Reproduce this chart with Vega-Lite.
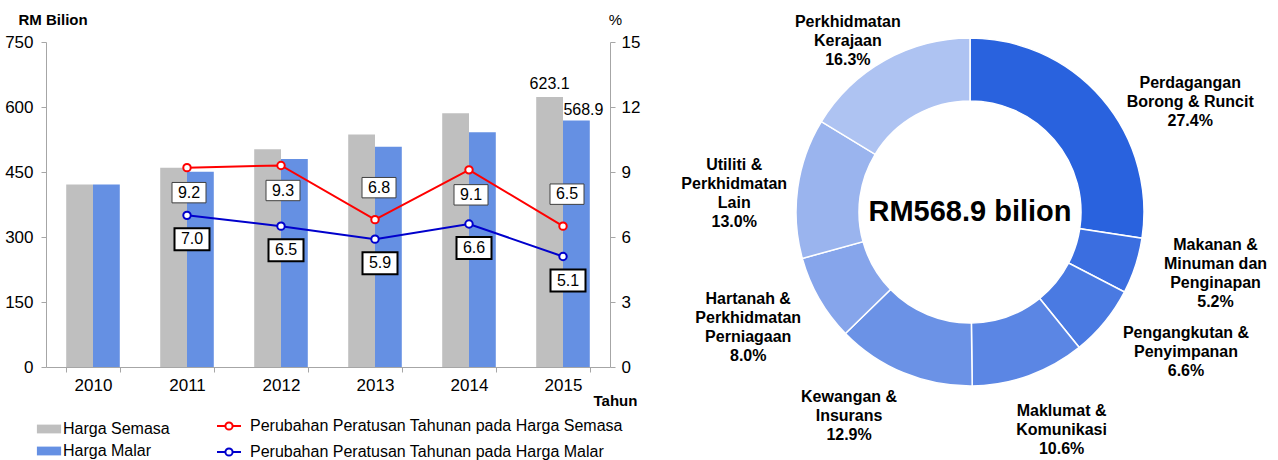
{
  "$schema": "https://vega.github.io/schema/vega-lite/v6.json",
  "padding": {"left": 4, "top": 12, "right": 0, "bottom": 0},
  "background": "white",
  "config": {
    "view": {"stroke": null},
    "font": "Liberation Sans",
    "axis": {"labelColor": "#000", "titleColor": "#000", "grid": false, "domainColor": "#A6A6A6", "tickColor": "#A6A6A6", "labelFont": "Liberation Sans", "titleFont": "Liberation Sans"},
    "legend": {"labelFontSize": 16, "labelColor": "#000", "padding": 0, "labelFont": "Liberation Sans", "labelLimit": 600},
    "text": {"font": "Liberation Sans", "color": "#000"}
  },
  "datasets": {
    "bars": [
      {"year": 2010, "series": "Harga Semasa", "value": 421.0},
      {"year": 2011, "series": "Harga Semasa", "value": 459.7},
      {"year": 2012, "series": "Harga Semasa", "value": 502.4},
      {"year": 2013, "series": "Harga Semasa", "value": 536.6},
      {"year": 2014, "series": "Harga Semasa", "value": 585.4},
      {"year": 2015, "series": "Harga Semasa", "value": 623.1},
      {"year": 2010, "series": "Harga Malar", "value": 421.0},
      {"year": 2011, "series": "Harga Malar", "value": 450.5},
      {"year": 2012, "series": "Harga Malar", "value": 479.8},
      {"year": 2013, "series": "Harga Malar", "value": 508.1},
      {"year": 2014, "series": "Harga Malar", "value": 541.7},
      {"year": 2015, "series": "Harga Malar", "value": 568.9}
    ],
    "pct": [
      {"year": 2011, "series": "Perubahan Peratusan Tahunan pada Harga Semasa", "pct": 9.2},
      {"year": 2012, "series": "Perubahan Peratusan Tahunan pada Harga Semasa", "pct": 9.3},
      {"year": 2013, "series": "Perubahan Peratusan Tahunan pada Harga Semasa", "pct": 6.8},
      {"year": 2014, "series": "Perubahan Peratusan Tahunan pada Harga Semasa", "pct": 9.1},
      {"year": 2015, "series": "Perubahan Peratusan Tahunan pada Harga Semasa", "pct": 6.5},
      {"year": 2011, "series": "Perubahan Peratusan Tahunan pada Harga Malar", "pct": 7.0},
      {"year": 2012, "series": "Perubahan Peratusan Tahunan pada Harga Malar", "pct": 6.5},
      {"year": 2013, "series": "Perubahan Peratusan Tahunan pada Harga Malar", "pct": 5.9},
      {"year": 2014, "series": "Perubahan Peratusan Tahunan pada Harga Malar", "pct": 6.6},
      {"year": 2015, "series": "Perubahan Peratusan Tahunan pada Harga Malar", "pct": 5.1}
    ],
    "sectors": [
      {"idx": 1, "sector": "Perdagangan Borong & Runcit", "share": 27.4, "label": "Perdagangan|Borong & Runcit|27.4%"},
      {"idx": 2, "sector": "Makanan & Minuman dan Penginapan", "share": 5.2, "label": "Makanan &|Minuman dan|Penginapan|5.2%"},
      {"idx": 3, "sector": "Pengangkutan & Penyimpanan", "share": 6.6, "label": "Pengangkutan &|Penyimpanan|6.6%"},
      {"idx": 4, "sector": "Maklumat & Komunikasi", "share": 10.6, "label": "Maklumat &|Komunikasi|10.6%"},
      {"idx": 5, "sector": "Kewangan & Insurans", "share": 12.9, "label": "Kewangan &|Insurans|12.9%"},
      {"idx": 6, "sector": "Hartanah & Perkhidmatan Perniagaan", "share": 8.0, "label": "Hartanah &|Perkhidmatan|Perniagaan|8.0%"},
      {"idx": 7, "sector": "Utiliti & Perkhidmatan Lain", "share": 13.0, "label": "Utiliti &|Perkhidmatan|Lain|13.0%"},
      {"idx": 8, "sector": "Perkhidmatan Kerajaan", "share": 16.3, "label": "Perkhidmatan|Kerajaan|16.3%"}
    ],
    "centre": [{"label": "RM568.9 bilion"}]
  },
  "bounds": "flush",
  "spacing": 70,
  "resolve": {"scale": {"color": "independent"}},
  "hconcat": [
    {
      "width": 564,
      "height": 325,
      "encoding": {
        "x": {
          "field": "year", "type": "ordinal",
          "scale": {"paddingInner": 0.43, "paddingOuter": 0.215},
          "axis": {"title": "Tahun", "labelAngle": 0, "labelFontSize": 17, "labelPadding": 5, "tickBand": "extent", "tickSize": 5,
                   "titleFontSize": 15, "titleFontWeight": "bold", "titleX": 569, "titleY": 33, "titleAlign": "center", "titleBaseline": "middle"}
        }
      },
      "layer": [
        {
          "layer": [
            {
              "data": {"name": "bars"},
              "mark": {"type": "bar"},
              "encoding": {
                "xOffset": {"field": "series", "type": "nominal", "sort": ["Harga Semasa", "Harga Malar"]},
                "y": {"field": "value", "type": "quantitative", "scale": {"domain": [0, 750], "nice": false},
                      "axis": {"orient": "left", "values": [0, 150, 300, 450, 600, 750], "labelFontSize": 17, "labelPadding": 8, "tickSize": 5,
                               "title": "RM Bilion", "titleAngle": 0, "titleFontSize": 15, "titleFontWeight": "bold", "titleX": -28, "titleY": -23, "titleAlign": "left", "titleBaseline": "middle"}},
                "color": {"field": "series", "type": "nominal",
                          "scale": {"domain": ["Harga Semasa", "Harga Malar"], "range": ["#BFBFBF", "#6590E3"]},
                          "legend": {"title": null, "orient": "none", "legendX": -8, "legendY": 376,
                                     "symbolType": "M -1.1 -0.4 H 1.1 V 0.4 H -1.1 Z", "symbolSize": 484, "symbolStrokeWidth": 0,
                                     "labelOffset": 3, "rowPadding": 3, "labelFontSize": 16}}
              }
            },
            {
              "data": {"name": "bars"},
              "transform": [{"filter": "datum.year == 2015 && datum.series == 'Harga Semasa'"}],
              "mark": {"type": "text", "fontSize": 16, "baseline": "alphabetic", "align": "center", "dy": -8},
              "encoding": {
                "xOffset": {"field": "series", "type": "nominal", "sort": ["Harga Semasa", "Harga Malar"]},
                "y": {"field": "value", "type": "quantitative"},
                "text": {"field": "value", "type": "quantitative", "format": ".1f"}
              }
            },
            {
              "data": {"name": "bars"},
              "transform": [{"filter": "datum.year == 2015 && datum.series == 'Harga Malar'"}],
              "mark": {"type": "text", "fontSize": 16, "baseline": "alphabetic", "align": "left", "dx": -13, "dy": -5},
              "encoding": {
                "xOffset": {"field": "series", "type": "nominal", "sort": ["Harga Semasa", "Harga Malar"]},
                "y": {"field": "value", "type": "quantitative"},
                "text": {"field": "value", "type": "quantitative", "format": ".1f"}
              }
            }
          ]
        },
        {
          "layer": [
            {
              "data": {"name": "pct"},
              "mark": {"type": "line", "strokeWidth": 2},
              "encoding": {
                "y": {"field": "pct", "type": "quantitative", "scale": {"domain": [0, 15], "nice": false},
                      "axis": {"orient": "right", "values": [0, 3, 6, 9, 12, 15], "labelFontSize": 17, "labelPadding": 6, "tickSize": 5,
                               "title": "%", "titleAngle": 0, "titleFontSize": 15, "titleFontWeight": "normal", "titleX": 5, "titleY": -23, "titleAlign": "center", "titleBaseline": "middle"}},
                "stroke": {"field": "series", "type": "nominal",
                           "scale": {"domain": ["Perubahan Peratusan Tahunan pada Harga Semasa", "Perubahan Peratusan Tahunan pada Harga Malar"], "range": ["#FF0000", "#0000CC"]},
                           "legend": {"title": null, "orient": "none", "legendX": 170, "legendY": 371,
                                      "symbolType": "M -1 0 H -0.3 M 0.3 0 H 1 M 0.3 0 A 0.3 0.3 0 1 1 -0.3 0 A 0.3 0.3 0 1 1 0.3 0",
                                      "symbolSize": 576, "symbolStrokeWidth": 2, "labelOffset": 8, "rowPadding": 5, "labelFontSize": 16, "labelLimit": 600,
                                      "encode": {"symbols": {"update": {"fill": {"value": "white"}, "strokeWidth": {"value": 2}, "opacity": {"value": 1}}}}}}
              }
            },
            {
              "data": {"name": "pct"},
              "mark": {"type": "point", "shape": "circle", "filled": true, "fill": "white", "size": 55, "strokeWidth": 2, "opacity": 1},
              "encoding": {
                "y": {"field": "pct", "type": "quantitative"},
                "stroke": {"field": "series", "type": "nominal"}
              }
            },
            {
              "data": {"name": "pct"},
              "transform": [{"filter": "test(/Semasa/, datum.series) && datum.year != 2013 && datum.year != 2015"}],
              "mark": {"type": "point", "shape": "M -1 -0.6 H 1 V 0.6 H -1 Z", "size": 1156, "filled": true, "fill": "white", "stroke": "#404040", "strokeWidth": 1, "opacity": 1, "yOffset": 25, "xOffset": 2},
              "encoding": {"y": {"field": "pct", "type": "quantitative"}}
            },
            {
              "data": {"name": "pct"},
              "transform": [{"filter": "test(/Semasa/, datum.series) && datum.year != 2013 && datum.year != 2015"}],
              "mark": {"type": "text", "fontSize": 16, "baseline": "middle", "yOffset": 25, "xOffset": 2},
              "encoding": {"y": {"field": "pct", "type": "quantitative"}, "text": {"field": "pct", "type": "quantitative", "format": ".1f"}}
            },
            {
              "data": {"name": "pct"},
              "transform": [{"filter": "test(/Semasa/, datum.series) && (datum.year == 2013 || datum.year == 2015)"}],
              "mark": {"type": "point", "shape": "M -1 -0.6 H 1 V 0.6 H -1 Z", "size": 1156, "filled": true, "fill": "white", "stroke": "#404040", "strokeWidth": 1, "opacity": 1, "yOffset": -32, "xOffset": 4},
              "encoding": {"y": {"field": "pct", "type": "quantitative"}}
            },
            {
              "data": {"name": "pct"},
              "transform": [{"filter": "test(/Semasa/, datum.series) && (datum.year == 2013 || datum.year == 2015)"}],
              "mark": {"type": "text", "fontSize": 16, "baseline": "middle", "yOffset": -32, "xOffset": 4},
              "encoding": {"y": {"field": "pct", "type": "quantitative"}, "text": {"field": "pct", "type": "quantitative", "format": ".1f"}}
            },
            {
              "data": {"name": "pct"},
              "transform": [{"filter": "test(/Malar/, datum.series)"}],
              "mark": {"type": "point", "shape": "M -1 -0.63 H 1 V 0.63 H -1 Z", "size": 1225, "filled": true, "fill": "white", "stroke": "#000000", "strokeWidth": 2, "opacity": 1, "yOffset": 24, "xOffset": 5},
              "encoding": {"y": {"field": "pct", "type": "quantitative"}}
            },
            {
              "data": {"name": "pct"},
              "transform": [{"filter": "test(/Malar/, datum.series)"}],
              "mark": {"type": "text", "fontSize": 16, "baseline": "middle", "yOffset": 24, "xOffset": 5},
              "encoding": {"y": {"field": "pct", "type": "quantitative"}, "text": {"field": "pct", "type": "quantitative", "format": ".1f"}}
            }
          ]
        }
      ],
      "resolve": {"scale": {"y": "independent"}}
    },
    {
      "width": 580,
      "height": 340,
      "layer": [
        {
          "data": {"name": "sectors"},
          "mark": {"type": "arc", "innerRadius": 111, "outerRadius": 174, "stroke": "white", "strokeWidth": 1.5},
          "encoding": {
            "theta": {"field": "share", "type": "quantitative", "stack": true, "scale": {"domain": [0, 100]}},
            "order": {"field": "idx", "type": "quantitative"},
            "color": {"field": "sector", "type": "nominal", "legend": null,
                      "scale": {"domain": ["Perdagangan Borong & Runcit", "Makanan & Minuman dan Penginapan", "Pengangkutan & Penyimpanan", "Maklumat & Komunikasi", "Kewangan & Insurans", "Hartanah & Perkhidmatan Perniagaan", "Utiliti & Perkhidmatan Lain", "Perkhidmatan Kerajaan"],
                                "range": ["#2962DE", "#3B6EE0", "#4A7AE2", "#5B86E4", "#6B92E6", "#86A5EB", "#9AB4EE", "#AEC3F2"]}}
          }
        },
        {
          "data": {"name": "centre"},
          "mark": {"type": "text", "fontSize": 29, "fontWeight": "bold", "baseline": "middle", "align": "center"},
          "encoding": {"text": {"field": "label", "type": "nominal"}}
        },
        {
          "data": {"name": "sectors"},
          "transform": [
            {"stack": "share", "groupby": [], "sort": [{"field": "idx", "order": "ascending"}], "as": ["s0", "s1"]},
            {"calculate": "(datum.s0 + datum.s1) / 2", "as": "mid"}
          ],
          "layer": [
            {"transform": [{"filter": "datum.idx == 1"}], "mark": {"type": "text", "radius": 235, "fontSize": 16, "fontWeight": "bold", "lineBreak": "|", "lineHeight": 19, "align": "center", "baseline": "middle", "dx": 42, "dy": 24}, "encoding": {"theta": {"field": "mid", "type": "quantitative", "stack": null}, "text": {"field": "label", "type": "nominal"}}},
            {"transform": [{"filter": "datum.idx == 2"}], "mark": {"type": "text", "radius": 235, "fontSize": 16, "fontWeight": "bold", "lineBreak": "|", "lineHeight": 19, "align": "center", "baseline": "middle", "dx": 22, "dy": -40}, "encoding": {"theta": {"field": "mid", "type": "quantitative", "stack": null}, "text": {"field": "label", "type": "nominal"}}},
            {"transform": [{"filter": "datum.idx == 3"}], "mark": {"type": "text", "radius": 235, "fontSize": 16, "fontWeight": "bold", "lineBreak": "|", "lineHeight": 19, "align": "center", "baseline": "middle", "dx": 34, "dy": -28}, "encoding": {"theta": {"field": "mid", "type": "quantitative", "stack": null}, "text": {"field": "label", "type": "nominal"}}},
            {"transform": [{"filter": "datum.idx == 4"}], "mark": {"type": "text", "radius": 235, "fontSize": 16, "fontWeight": "bold", "lineBreak": "|", "lineHeight": 19, "align": "center", "baseline": "middle", "dx": 12, "dy": -22}, "encoding": {"theta": {"field": "mid", "type": "quantitative", "stack": null}, "text": {"field": "label", "type": "nominal"}}},
            {"transform": [{"filter": "datum.idx == 5"}], "mark": {"type": "text", "radius": 235, "fontSize": 16, "fontWeight": "bold", "lineBreak": "|", "lineHeight": 19, "align": "center", "baseline": "middle", "dx": -31, "dy": -32}, "encoding": {"theta": {"field": "mid", "type": "quantitative", "stack": null}, "text": {"field": "label", "type": "nominal"}}},
            {"transform": [{"filter": "datum.idx == 6"}], "mark": {"type": "text", "radius": 235, "fontSize": 16, "fontWeight": "bold", "lineBreak": "|", "lineHeight": 19, "align": "center", "baseline": "middle", "dx": -18, "dy": -30}, "encoding": {"theta": {"field": "mid", "type": "quantitative", "stack": null}, "text": {"field": "label", "type": "nominal"}}},
            {"transform": [{"filter": "datum.idx == 7"}], "mark": {"type": "text", "radius": 235, "fontSize": 16, "fontWeight": "bold", "lineBreak": "|", "lineHeight": 19, "align": "center", "baseline": "middle", "dx": -3, "dy": -15}, "encoding": {"theta": {"field": "mid", "type": "quantitative", "stack": null}, "text": {"field": "label", "type": "nominal"}}},
            {"transform": [{"filter": "datum.idx == 8"}], "mark": {"type": "text", "radius": 235, "fontSize": 16, "fontWeight": "bold", "lineBreak": "|", "lineHeight": 19, "align": "center", "baseline": "middle", "dx": -7, "dy": 15}, "encoding": {"theta": {"field": "mid", "type": "quantitative", "stack": null}, "text": {"field": "label", "type": "nominal"}}}
          ]
        }
      ]
    }
  ]
}
